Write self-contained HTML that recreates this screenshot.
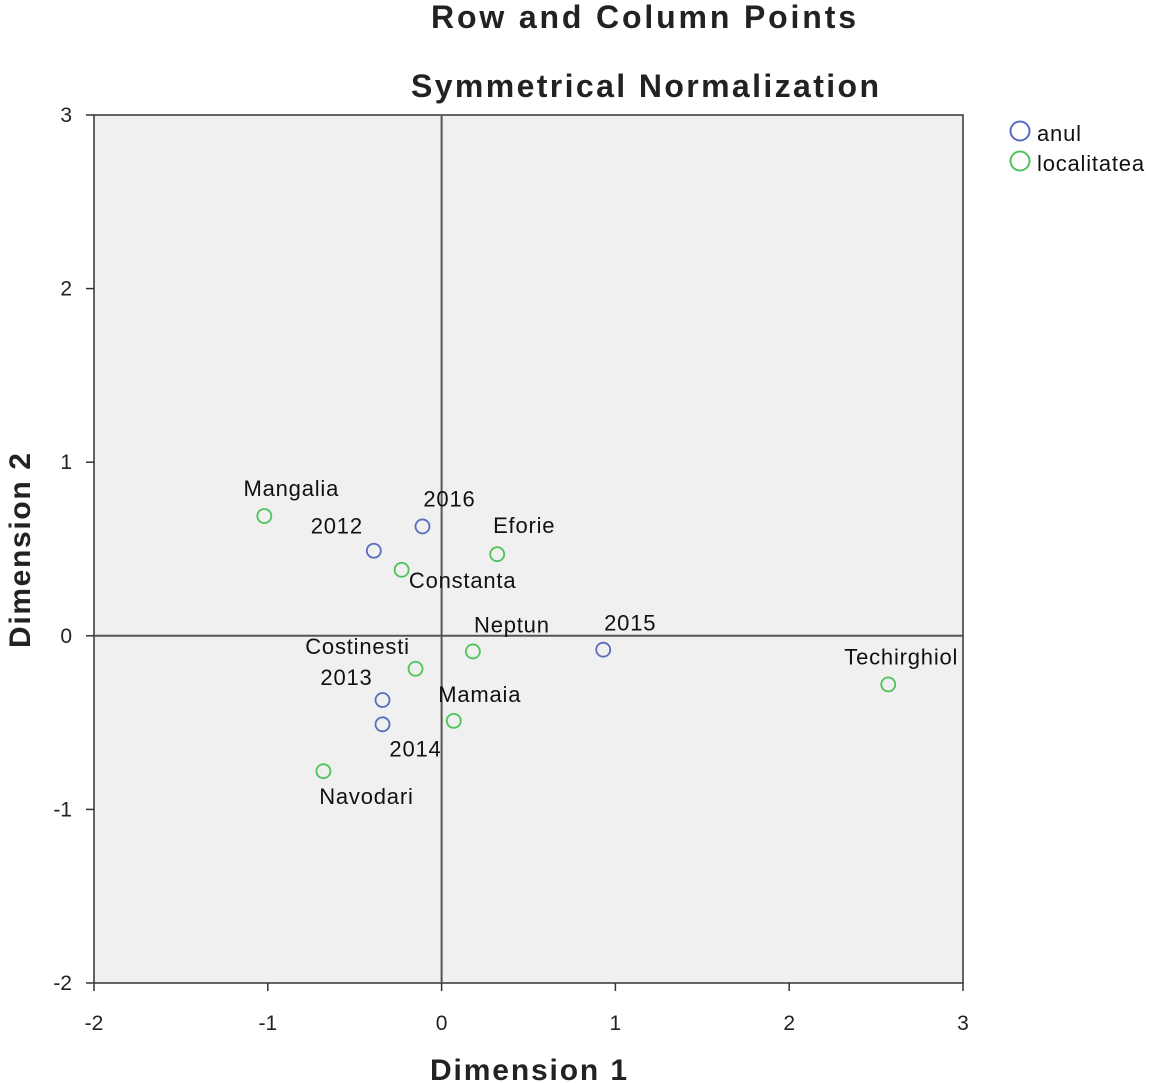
<!DOCTYPE html>
<html><head><meta charset="utf-8"><style>
body{margin:0;background:#fff;}
svg{display:block;font-family:"Liberation Sans",Arial,sans-serif;}
</style></head><body>
<svg id="chart" width="1150" height="1083">
<text x="431" y="28" font-size="32" font-weight="bold" textLength="425" lengthAdjust="spacing" fill="#222">Row and Column Points</text>
<text x="411" y="97" font-size="32" font-weight="bold" textLength="468" lengthAdjust="spacing" fill="#222">Symmetrical Normalization</text>
<rect x="94" y="115" width="869" height="868" fill="#f0f0f0" stroke="#333" stroke-width="1.5"/>
<g id="axes"></g>
<g id="marks"></g>
<text x="430" y="1080" font-size="30" font-weight="bold" textLength="197" lengthAdjust="spacing" fill="#222">Dimension 1</text>
<text transform="translate(30,648) rotate(-90)" font-size="30" font-weight="bold" textLength="195" lengthAdjust="spacing" fill="#222">Dimension 2</text>
<g>
<circle cx="1020" cy="131" r="9.5" fill="none" stroke="#5b6cc0" stroke-width="2"/>
<text x="1037" y="141" font-size="22" letter-spacing="0.8" fill="#111">anul</text>
<circle cx="1020" cy="161" r="9.5" fill="none" stroke="#4fc35a" stroke-width="2"/>
<text x="1037" y="171" font-size="22" letter-spacing="0.8" fill="#111">localitatea</text>
</g>
</svg>
<script>
const labels=["Mangalia","2012","2016","Eforie","Constanta","Neptun","2015","Techirghiol","Costinesti","2013","2014","Mamaia","Navodari"];
const groups=["localitatea","anul","anul","localitatea","localitatea","localitatea","anul","localitatea","localitatea","anul","anul","localitatea","localitatea"];
const dim1=[-1.02,-0.39,-0.11,0.32,-0.23,0.18,0.93,2.57,-0.15,-0.34,-0.34,0.07,-0.68];
const dim2=[0.69,0.49,0.63,0.47,0.38,-0.09,-0.08,-0.28,-0.19,-0.37,-0.51,-0.49,-0.78];
const xTicks=[-2,-1,0,1,2,3];
const yTicks=[-2,-1,0,1,2,3];
const labelDx=[27,-37,27,27,61,39,27,13,-58,-36,33,26,43];
const labelDy=[-27,-24,-27,-28,11,-26,-26,-27,-22,-22,25,-26,26];
const X=v=>94+(v+2)*173.8, Y=v=>983-(v+2)*173.6;
const NS="http://www.w3.org/2000/svg";
const ax=document.getElementById('axes'), mk=document.getElementById('marks');
function mkEl(t,a,p){const e=document.createElementNS(NS,t);for(const k in a)e.setAttribute(k,a[k]);p.appendChild(e);return e;}
xTicks.forEach(t=>{
 const l=mkEl('line',{x1:X(t),x2:X(t),y1:983,y2:991,stroke:'#333','stroke-width':1.5},ax);
 
 
 const tx=mkEl('text',{x:X(t),y:1030,'font-size':21,'text-anchor':'middle',fill:'#222'},ax);tx.textContent=t;
 
 
});
yTicks.forEach(t=>{
 const l=mkEl('line',{x1:86,x2:94,y1:Y(t),y2:Y(t),stroke:'#333','stroke-width':1.5},ax);
 
 
 const tx=mkEl('text',{x:72,y:Y(t)+7,'font-size':21,'text-anchor':'end',fill:'#222'},ax);tx.textContent=t;
 
 
});
const z1=mkEl('line',{x1:X(0),x2:X(0),y1:115,y2:983,stroke:'#555','stroke-width':2},ax);


const z2=mkEl('line',{x1:94,x2:963,y1:Y(0),y2:Y(0),stroke:'#555','stroke-width':2},ax);


labels.forEach((n,i)=>{
 const cx=X(dim1[i]), cy=Y(dim2[i]);
 const c=mkEl('circle',{cx:cx,cy:cy,r:7,fill:'none',stroke:groups[i]=='anul'?'#5b6cc0':'#4fc35a','stroke-width':1.8},mk);
 
 
 const t=mkEl('text',{x:cx+labelDx[i],y:cy+labelDy[i]+7,'font-size':22,'letter-spacing':0.8,'text-anchor':'middle',fill:'#111'},mk);t.textContent=n;
 
 
});
</script>
</body></html>
